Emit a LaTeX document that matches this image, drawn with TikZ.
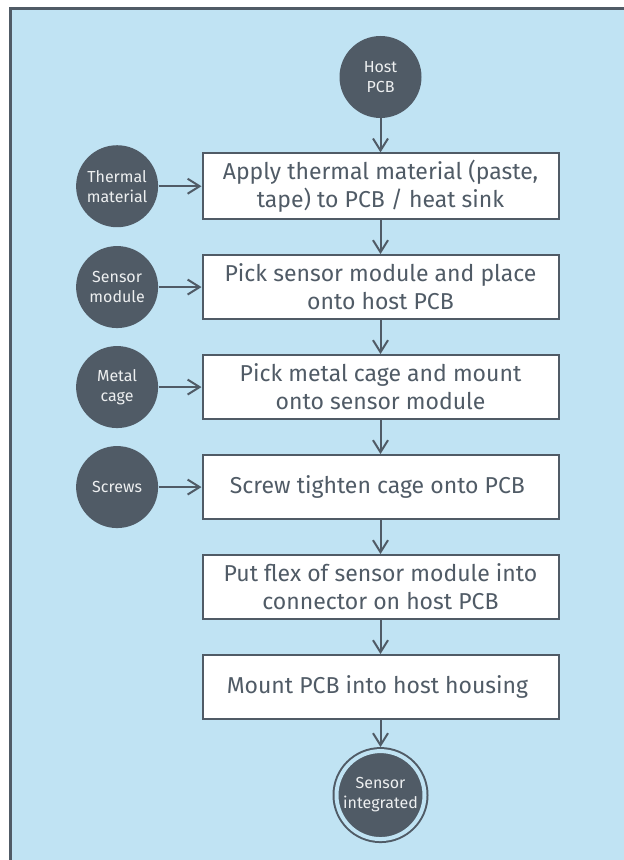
\documentclass[tikz,border=0pt]{standalone}
\usepackage{fontspec}
\setmainfont{Fira Sans}
\usepackage{xcolor}
\usetikzlibrary{positioning,shapes,arrows.meta}
\definecolor{slate}{HTML}{505B66}
\definecolor{paleblue}{HTML}{C0E3F3}
\definecolor{softwhite}{HTML}{EDEFF0}
\tikzstyle{process}=[rectangle, draw=slate, line width=1pt, fill=white, text=slate,
        minimum width=178pt, minimum height=32pt, align=center,
        font=\fontsize{11.5}{14}\selectfont]
\tikzstyle{input}=[circle, fill=slate, text=softwhite, minimum size=41pt, inner sep=0pt,
        align=center, font=\fontsize{8}{10}\selectfont]
\tikzstyle{finish}=[input, draw=slate, line width=1pt, double=paleblue, double distance=2pt,
        minimum size=44pt]
\tikzstyle{flow}=[line width=1pt, draw=slate, -{Straight Barb[length=6pt,width=7.5pt]}]

\begin{document}
\begin{tikzpicture}[x=0.5pt, y=-0.5pt, node distance=17pt]
        \useasboundingbox (0,0) rectangle (623,860);
        \draw[draw=slate, line width=1.5pt, fill=paleblue] (10.5,8.5) rectangle (700,940);
        \node (host) [input] at (380.5,77) {Host\\PCB};
        \node (b1) [process, below=of host]
        {
          Apply thermal material (paste,\\tape) to PCB / heat sink
        };
        \node (b2) [process, below=of b1]
        {
          Pick sensor module and place\\onto host PCB
        };
        \node (b3) [process, below=of b2]
        {
          Pick metal cage and mount\\onto sensor module
        };
        \node (b4) [process, below=of b3]
        {
          Screw tighten cage onto PCB
        };
        \node (b5) [process, below=of b4]
        {
          Put flex of sensor module into\\connector on host PCB
        };
        \node (b6) [process, below=of b5]
        {
          Mount PCB into host housing
        };
        \node (done) [finish, below=15pt of b6] {Sensor\\integrated};
        \node (thermal) [input, left=21.5pt of b1] {Thermal\\material};
        \node (module) [input, left=21.5pt of b2] {Sensor\\module};
        \node (cage) [input, left=21.5pt of b3] {Metal\\cage};
        \node (screws) [input, left=21.5pt of b4] {Screws};
        \draw[flow] (host) -- (b1);
        \draw[flow] (b1) -- (b2);
        \draw[flow] (b2) -- (b3);
        \draw[flow] (b3) -- (b4);
        \draw[flow] (b4) -- (b5);
        \draw[flow] (b5) -- (b6);
        \draw[flow, shorten >=1.5pt] (b6) -- (done);
        \draw[flow] (thermal) -- (b1);
        \draw[flow] (module) -- (b2);
        \draw[flow] (cage) -- (b3);
        \draw[flow] (screws) -- (b4);
\end{tikzpicture}
\end{document}
